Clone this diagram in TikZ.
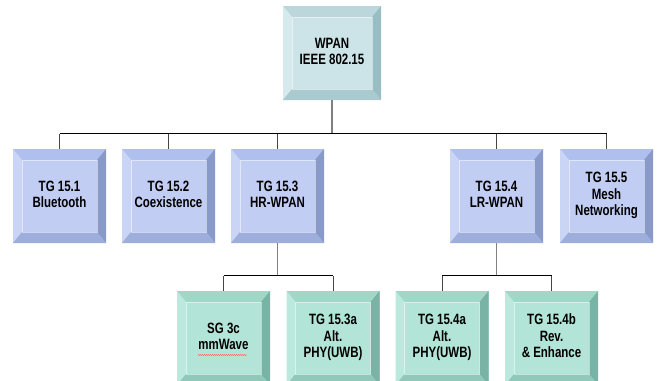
\documentclass[tikz,border=0pt]{standalone}
\usepackage{fontspec}
\setmainfont{Liberation Sans}
\usetikzlibrary{decorations.pathmorphing}
\newcommand\lbl[1]{\scalebox{1}[1.3]{\begin{tabular}{@{}c@{}}#1\end{tabular}}}
\def\bvx{9}
\def\bvy{11}
\definecolor{tFace}{HTML}{CCE3E8}\definecolor{tTop}{HTML}{BBD7DC}\definecolor{tLeft}{HTML}{D6EAEE}\definecolor{tRight}{HTML}{98BDC2}\definecolor{tBot}{HTML}{A9CBD0}
\definecolor{mFace}{HTML}{C2CDF3}\definecolor{mTop}{HTML}{B0C0EE}\definecolor{mLeft}{HTML}{CAD5F6}\definecolor{mRight}{HTML}{8A9AC8}\definecolor{mBot}{HTML}{9DADDC}
\definecolor{lFace}{HTML}{B2E4D7}\definecolor{lTop}{HTML}{A0D8C8}\definecolor{lLeft}{HTML}{BCE9DD}\definecolor{lRight}{HTML}{7AB2A5}\definecolor{lBot}{HTML}{90C9BA}
\tikzset{
  bevelbox/.style n args={7}{draw=none, fill=#3, minimum width=#1, minimum height=#2,
    inner sep=0pt, align=center, font=\fontsize{11.5}{12.6}\selectfont\bfseries,
    path picture={
      \path (path picture bounding box.north west) coordinate (pNW)
            (path picture bounding box.north east) coordinate (pNE)
            (path picture bounding box.south west) coordinate (pSW)
            (path picture bounding box.south east) coordinate (pSE);
      \path ([shift={(\bvx,\bvy)}]pNW) coordinate (qNW)
            ([shift={(-\bvx,\bvy)}]pNE) coordinate (qNE)
            ([shift={(\bvx,-\bvy)}]pSW) coordinate (qSW)
            ([shift={(-\bvx,-\bvy)}]pSE) coordinate (qSE);
      \fill[#4] (pNW)--(pNE)--(qNE)--(qNW)--cycle;
      \fill[#5] (pNW)--(qNW)--(qSW)--(pSW)--cycle;
      \fill[#6] (pNE)--(pSE)--(qSE)--(qNE)--cycle;
      \fill[#7] (pSW)--(qSW)--(qSE)--(pSE)--cycle;
      \draw[white,opacity=.5,line width=.6pt] (qNW) rectangle (qSE);
    }},
  topbox/.style={bevelbox={98}{94}{tFace}{tTop}{tLeft}{tRight}{tBot}},
  midbox/.style={bevelbox={93}{94}{mFace}{mTop}{mLeft}{mRight}{mBot}},
  lowbox/.style={bevelbox={93}{94}{lFace}{lTop}{lLeft}{lRight}{lBot}},
  vline/.style={draw={rgb,255:red,128;green,128;blue,128}, line width=1.1pt},
  busline/.style={draw=black, line width=1pt},
  dropline/.style={draw={rgb,255:red,70;green,70;blue,70}, line width=1pt}
}
\begin{document}
\begin{tikzpicture}[x=1pt,y=-1pt]
\useasboundingbox (0,0) rectangle (660,380);
\clip (0,0) rectangle (660,380);
\fill[white] (0,0) rectangle (660,380);
% nodes
\node[topbox] (wpan) at (332,53) {\lbl{WPAN\\IEEE 802.15}};
\node[midbox] (tg1) at (59.5,196) {\lbl{TG 15.1\\Bluetooth}};
\node[midbox] (tg2) at (168.5,196) {\lbl{TG 15.2\\Coexistence}};
\node[midbox] (tg3) at (277.5,196) {\lbl{TG 15.3\\HR-WPAN}};
\node[midbox] (tg4) at (496.5,196) {\lbl{TG 15.4\\LR-WPAN}};
\node[midbox] (tg5) at (606.5,196) {\lbl{TG 15.5\\Mesh\\Networking}};
\node[lowbox] (sg3c) at (223.5,338) {\lbl{SG 3c\\mmWave}};
\node[lowbox] (tg3a) at (333,338) {\lbl{TG 15.3a\\Alt.\\PHY(UWB)}};
\node[lowbox] (tg4a) at (442,338) {\lbl{TG 15.4a\\Alt.\\PHY(UWB)}};
\node[lowbox] (tg4b) at (551.5,338) {\lbl{TG 15.4b\\Rev.\\\& Enhance}};
% spell-check underline
\coordinate (sqA) at (198,355);
\coordinate (sqB) at (247,355);
\draw[red!70, line width=0.4pt, decorate, decoration={snake, amplitude=0.5pt, segment length=2pt}] (sqA) -- (sqB);
% level 1 connectors
\draw[vline] (wpan.south) -- ([yshift=15]wpan.south |- tg1.north);
\draw[busline] ([yshift=15]tg1.north) -- ([yshift=15]tg5.north);
\foreach \n in {tg1,tg2,tg3,tg4,tg5}{
  \draw[dropline] (\n.north) -- ([yshift=15]\n.north);
}
% level 2 connectors
\draw[vline] (tg3.south) -- ([yshift=15]tg3.south |- sg3c.north);
\draw[busline] ([yshift=15]sg3c.north) -- ([yshift=15]tg3a.north);
\draw[vline] (tg4.south) -- ([yshift=15]tg4.south |- tg4a.north);
\draw[busline] ([yshift=15]tg4a.north) -- ([yshift=15]tg4b.north);
\foreach \n in {sg3c,tg3a,tg4a,tg4b}{
  \draw[dropline] (\n.north) -- ([yshift=15]\n.north);
}
\end{tikzpicture}
\end{document}
